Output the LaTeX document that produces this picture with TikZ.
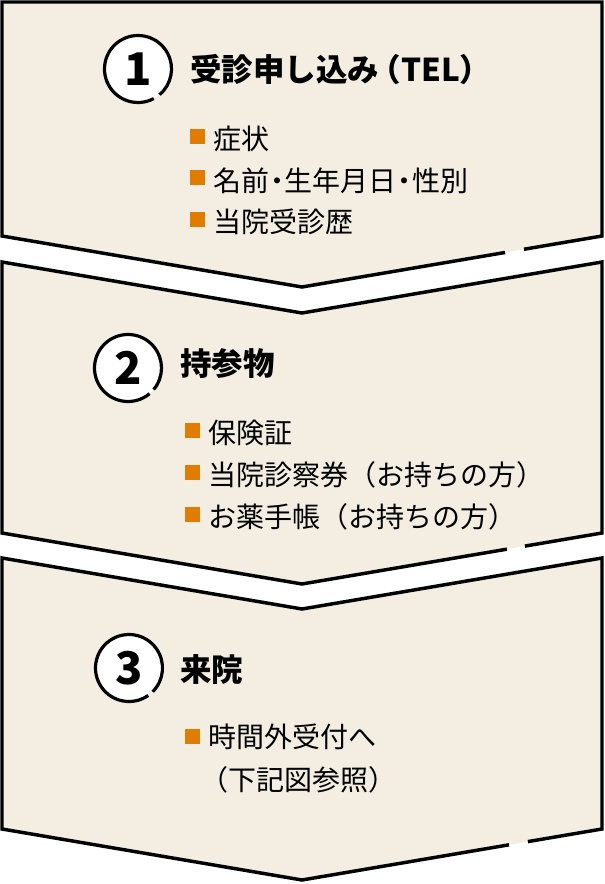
\documentclass[tikz,border=0pt]{standalone}
\usepackage{fontspec}
\newfontfamily\jp{Noto Sans CJK JP}
\usetikzlibrary{calc}
\definecolor{panelfill}{HTML}{F3EEE1}
\definecolor{bulletorange}{HTML}{E07C00}
\newcommand{\nakaguro}{\kern-0.22em・\kern-0.22em}
\begin{document}
\begin{tikzpicture}[x=0.75pt,y=-0.75pt,
  outline/.style={draw=black,line width=2.6pt,line join=miter},
  ring/.style={draw=black,line width=2.4pt},
  numcircle/.style={circle,fill=white,minimum size=50pt,inner sep=0pt,
    font=\jp\bfseries\fontsize{33.75pt}{36pt}\selectfont},
  titletext/.style={anchor=west,inner sep=0pt,
    font=\jp\bfseries\fontsize{23.6pt}{28pt}\selectfont},
  itemtext/.style={anchor=west,inner sep=0pt,
    font=\jp\fontsize{21pt}{25pt}\selectfont},
  bulletbox/.style={fill=bulletorange,minimum size=11.25pt,inner sep=0pt}]
\useasboundingbox (0,0) rectangle (604,884);

% ---------- panel coordinates ----------
\coordinate (p1tl) at (2,2);   \coordinate (p1tr) at (602,2);
\coordinate (p1br) at (602,236); \coordinate (p1bt) at (302,287); \coordinate (p1bl) at (2,236);

\coordinate (p2tl) at (2,262); \coordinate (p2tt) at (302,313); \coordinate (p2tr) at (602,262);
\coordinate (p2br) at (602,533); \coordinate (p2bt) at (302,584); \coordinate (p2bl) at (2,533);

\coordinate (p3tl) at (2,558); \coordinate (p3tt) at (302,609); \coordinate (p3tr) at (602,558);
\coordinate (p3br) at (602,829); \coordinate (p3bt) at (302,880); \coordinate (p3bl) at (2,829);

% ---------- panel 1 ----------
\fill[panelfill] (p1tl) -- (p1tr) -- (p1br) -- (p1bt) -- (p1bl) -- cycle;
\draw[outline] ($(p1bt)!0.74!(p1br)$) -- (p1br) -- (p1tr) -- (p1tl) -- (p1bl) -- (p1bt) -- ($(p1bt)!0.677!(p1br)$);

% ---------- panel 2 ----------
\fill[panelfill] (p2tl) -- (p2tt) -- (p2tr) -- (p2br) -- (p2bt) -- (p2bl) -- cycle;
\draw[outline] ($(p2bt)!0.743!(p2br)$) -- (p2br) -- (p2tr) -- (p2tt) -- (p2tl) -- (p2bl) -- (p2bt) -- ($(p2bt)!0.683!(p2br)$);

% ---------- panel 3 ----------
\fill[panelfill] (p3tl) -- (p3tt) -- (p3tr) -- (p3br) -- (p3bt) -- (p3bl) -- cycle;
\draw[outline] ($(p3bt)!0.753!(p3br)$) -- (p3br) -- (p3tr) -- (p3tt) -- (p3tl) -- (p3bl) -- (p3bt) -- ($(p3bt)!0.69!(p3br)$);

% ---------- step 1 ----------
\node[numcircle] (n1) at (138,69) {1};
\draw[ring] (n1.center) ++(62:33.5) arc[start angle=62,end angle=410,radius=33.5];
\node[titletext] (t1) at (190,70) {受診申し込み\kern-0.3em（TEL）};
\node[bulletbox] (b11) at (197.5,136.5) {};
\node[itemtext]  (i11) at (213,139) {症状};
\node[bulletbox] (b12) at (197.5,178) {};
\node[itemtext]  (i12) at (213,180.5) {名前\nakaguro 生年月日\nakaguro 性別};
\node[bulletbox] (b13) at (197.5,219.5) {};
\node[itemtext]  (i13) at (213,222) {当院受診歴};

% ---------- step 2 ----------
\node[numcircle] (n2) at (128,368) {2};
\draw[ring] (n2.center) ++(50:33.5) arc[start angle=50,end angle=400,radius=33.5];
\node[titletext] (t2) at (180,364) {持参物};
\node[bulletbox] (b21) at (192,430) {};
\node[itemtext]  (i21) at (208,433) {保険証};
\node[bulletbox] (b22) at (192,472.5) {};
\node[itemtext]  (i22) at (208,475) {当院診察券（お持ちの方）};
\node[bulletbox] (b23) at (192,514.5) {};
\node[itemtext]  (i23) at (208,517) {お薬手帳（お持ちの方）};

% ---------- step 3 ----------
\node[numcircle] (n3) at (129,668) {3};
\draw[ring] (n3.center) ++(55:33.5) arc[start angle=55,end angle=405,radius=33.5];
\node[titletext] (t3) at (180,670) {来院};
\node[bulletbox] (b31) at (192,736) {};
\node[itemtext]  (i31) at (208,737) {時間外受付へ};
\node[itemtext]  (i32) at (200,780) {（下記図参照）};
\end{tikzpicture}
\end{document}
